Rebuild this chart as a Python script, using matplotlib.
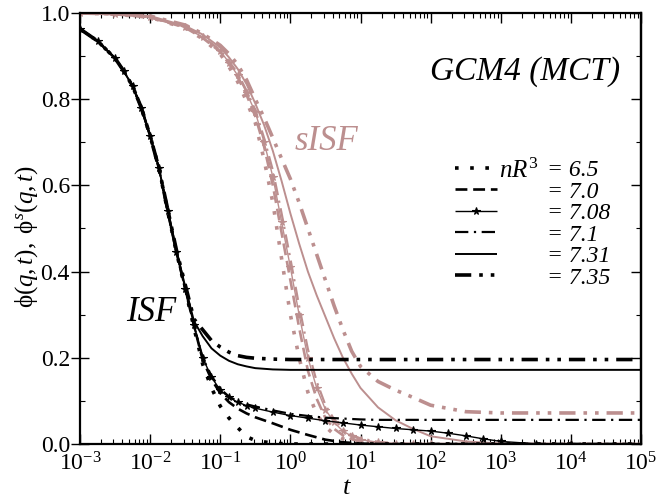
import numpy as np
import matplotlib
matplotlib.use('Agg')
import matplotlib.pyplot as plt
from matplotlib.ticker import LogLocator, MultipleLocator, NullFormatter, FormatStrFormatter

plt.rcParams['font.family'] = ['Liberation Serif', 'DejaVu Serif']
plt.rcParams['mathtext.fontset'] = 'custom'
plt.rcParams['mathtext.rm'] = 'Liberation Serif'
plt.rcParams['mathtext.it'] = 'Liberation Serif:italic'
plt.rcParams['mathtext.bf'] = 'Liberation Serif:bold'

# ---------------- data ----------------
densities = ['6.5', '7.0', '7.08', '7.1', '7.31', '7.35']

# collective ISF (black)
log_t_isf = [-3, -2.75, -2.5, -2.375, -2.25, -2.125, -2, -1.875, -1.75, -1.625, -1.5, -1.375,
             -1.25, -1.125, -1, -0.875, -0.75, -0.625, -0.5, -0.25, 0, 0.25, 0.5, 0.75,
             1, 1.25, 1.5, 1.75, 2, 2.25, 2.5, 2.75, 3, 3.5, 4, 5]
isf_65 = [0.963, 0.935, 0.895, 0.865, 0.83, 0.78, 0.715, 0.64, 0.54, 0.445, 0.36, 0.27,
          0.185, 0.13, 0.088, 0.06, 0.038, 0.017, 0.008, 0.002, 0, 0, 0, 0,
          0, 0, 0, 0, 0, 0, 0, 0, 0, 0, 0, 0]
isf_70 = [0.963, 0.935, 0.895, 0.865, 0.83, 0.78, 0.715, 0.64, 0.54, 0.445, 0.36, 0.275,
          0.195, 0.15, 0.118, 0.097, 0.082, 0.071, 0.062, 0.048, 0.033, 0.021, 0.01, 0.004,
          0.001, 0, 0, 0, 0, 0, 0, 0, 0, 0, 0, 0]
isf_708 = [0.963, 0.935, 0.895, 0.865, 0.83, 0.78, 0.715, 0.64, 0.54, 0.445, 0.36, 0.275,
           0.2, 0.155, 0.125, 0.108, 0.097, 0.089, 0.083, 0.074, 0.066, 0.06, 0.054, 0.049,
           0.044, 0.04, 0.036, 0.033, 0.03, 0.025, 0.019, 0.012, 0.006, 0.0005, 0, 0]
isf_71 = [0.963, 0.935, 0.895, 0.865, 0.83, 0.78, 0.715, 0.64, 0.54, 0.445, 0.36, 0.275,
          0.2, 0.158, 0.128, 0.11, 0.099, 0.092, 0.087, 0.078, 0.07, 0.065, 0.061, 0.059,
          0.057, 0.056, 0.056, 0.056, 0.056, 0.056, 0.056, 0.056, 0.056, 0.056, 0.056, 0.056]
isf_731 = [0.963, 0.935, 0.895, 0.865, 0.83, 0.78, 0.715, 0.64, 0.545, 0.45, 0.365, 0.285,
           0.25, 0.222, 0.205, 0.193, 0.185, 0.18, 0.176, 0.173, 0.172, 0.172, 0.172, 0.172,
           0.172, 0.172, 0.172, 0.172, 0.172, 0.172, 0.172, 0.172, 0.172, 0.172, 0.172, 0.172]
isf_735 = [0.963, 0.935, 0.895, 0.865, 0.83, 0.78, 0.715, 0.64, 0.545, 0.45, 0.37, 0.29,
           0.265, 0.24, 0.225, 0.213, 0.205, 0.201, 0.199, 0.197, 0.196, 0.196, 0.196, 0.196,
           0.196, 0.196, 0.196, 0.196, 0.196, 0.196, 0.196, 0.196, 0.196, 0.196, 0.196, 0.196]

# self ISF (pink)
log_t_sisf = [-3, -2.5, -2, -1.5, -1.25, -1, -0.875, -0.75, -0.625, -0.5, -0.375, -0.25,
              -0.125, 0, 0.125, 0.25, 0.375, 0.5, 0.625, 0.75, 0.875, 1, 1.25, 1.5, 1.75,
              2, 2.5, 3, 4, 5]
sisf_65 = [1.0, 0.997, 0.99, 0.965, 0.94, 0.905, 0.875, 0.84, 0.795, 0.745, 0.66, 0.56,
           0.43, 0.30, 0.20, 0.12, 0.07, 0.04, 0.022, 0.012, 0.006, 0.003, 0, 0, 0,
           0, 0, 0, 0, 0]
sisf_70 = [1.0, 0.997, 0.99, 0.966, 0.942, 0.91, 0.882, 0.85, 0.81, 0.76, 0.69, 0.60,
           0.49, 0.38, 0.27, 0.17, 0.105, 0.06, 0.035, 0.02, 0.011, 0.006, 0.001, 0, 0,
           0, 0, 0, 0, 0]
sisf_708 = [1.0, 0.997, 0.99, 0.967, 0.944, 0.912, 0.885, 0.855, 0.815, 0.77, 0.70, 0.62,
            0.515, 0.41, 0.30, 0.20, 0.13, 0.08, 0.05, 0.03, 0.018, 0.01, 0.004, 0.001, 0,
            0, 0, 0, 0, 0]
sisf_71 = [1.0, 0.997, 0.99, 0.967, 0.945, 0.914, 0.888, 0.86, 0.82, 0.775, 0.71, 0.635,
           0.535, 0.43, 0.32, 0.22, 0.145, 0.09, 0.057, 0.035, 0.021, 0.013, 0.005, 0.002, 0,
           0, 0, 0, 0, 0]
sisf_731 = [1.0, 0.998, 0.993, 0.97, 0.95, 0.92, 0.897, 0.87, 0.835, 0.79, 0.74, 0.68,
            0.61, 0.535, 0.465, 0.40, 0.345, 0.295, 0.245, 0.20, 0.163, 0.13, 0.085, 0.055,
            0.035, 0.018, 0.006, 0.001, 0, 0]
sisf_735 = [1.0, 0.998, 0.993, 0.972, 0.952, 0.925, 0.905, 0.88, 0.845, 0.80, 0.757, 0.71,
            0.662, 0.615, 0.56, 0.50, 0.44, 0.38, 0.32, 0.265, 0.215, 0.18, 0.145, 0.125,
            0.108, 0.09, 0.075, 0.072, 0.072, 0.072]

x_ticks = [1e-3, 1e-2, 1e-1, 1e0, 1e1, 1e2, 1e3, 1e4, 1e5]
y_ticks = [0.0, 0.2, 0.4, 0.6, 0.8, 1.0]

# ---------------- styles ----------------
PINK = '#BC8F8F'
styles = [
    dict(ls=(0, (1, 3.2)), lw=2.6, marker=None, dash_capstyle='butt'),
    dict(ls=(0, (4.5, 2.2)), lw=1.9, marker=None),
    dict(ls='-', lw=1.0, marker='*', ms=5.5),
    dict(ls=(0, (6, 2.5, 1, 2.5)), lw=1.6, marker=None),
    dict(ls='-', lw=1.4, marker=None),
    dict(ls=(0, (4.5, 2.2, 1, 2.2, 1, 2.2)), lw=2.6, marker=None),
]

isf_all = [isf_65, isf_70, isf_708, isf_71, isf_731, isf_735]
sisf_all = [sisf_65, sisf_70, sisf_708, sisf_71, sisf_731, sisf_735]

fig = plt.figure(figsize=(6.69, 5.0), dpi=100)
ax = fig.add_axes([80 / 669, 56 / 500, 561 / 669, 431 / 500])

t_isf = 10.0 ** np.array(log_t_isf)
t_sisf = 10.0 ** np.array(log_t_sisf)

handles = []
for vals, st in zip(sisf_all, styles):
    kw = dict(st)
    ax.plot(t_sisf, vals, color=PINK, linestyle=kw.pop('ls'), linewidth=kw.pop('lw'),
            markeredgewidth=0.8, solid_capstyle='butt', **kw)
for vals, st, d in zip(isf_all, styles, densities):
    kw = dict(st)
    h, = ax.plot(t_isf, vals, color='black', linestyle=kw.pop('ls'), linewidth=kw.pop('lw'),
                 markeredgewidth=0.8, solid_capstyle='butt', **kw)
    handles.append(h)

ax.set_xscale('log')
ax.set_xlim(1e-3, 1e5)
ax.set_ylim(0, 1)
ax.set_xticks(x_ticks)
ax.xaxis.set_minor_locator(LogLocator(base=10, subs=np.arange(2, 10), numticks=20))
ax.xaxis.set_minor_formatter(NullFormatter())
ax.set_yticks(y_ticks)
ax.yaxis.set_major_formatter(FormatStrFormatter('%.1f'))
ax.yaxis.set_minor_locator(MultipleLocator(0.1))

for s in ax.spines.values():
    s.set_linewidth(1.6)

ax.tick_params(axis='x', which='major', direction='in', length=7.5, width=1.0,
               top=True, labelsize=17, pad=6)
ax.tick_params(axis='x', which='minor', direction='in', length=3.8, width=0.8, top=True)
ax.tick_params(axis='y', which='major', direction='inout', length=12.5, width=1.0,
               left=True, right=False, labelsize=17, pad=1)
ax.tick_params(axis='y', which='minor', direction='in', length=3.8, width=0.8,
               left=True, right=True)
sec = ax.secondary_yaxis('right')
sec.set_yticks(y_ticks)
sec.tick_params(direction='in', length=7.5, width=1.0, labelright=False)
sec.spines['right'].set_linewidth(1.6)

ax.set_xlabel('$t$', fontsize=19)
ax.xaxis.set_label_coords(0.476, -0.076)
ax.set_ylabel(r'$\mathrm{\phi}(q,t),\ \mathrm{\phi}^{s}(q,t)$', fontsize=18)
ax.yaxis.set_label_coords(-0.072, 0.48)

ax.text(0.793, 0.865, 'GCM4 (MCT)', transform=ax.transAxes, fontsize=24,
        style='italic', ha='center', va='center')
ax.text(0.44, 0.703, 'sISF', transform=ax.transAxes, fontsize=25,
        style='italic', ha='center', va='center', color=PINK)
ax.text(0.127, 0.306, 'ISF', transform=ax.transAxes, fontsize=25,
        style='italic', ha='center', va='center')

leg = ax.legend(handles, ['= ' + d for d in densities], loc='upper left',
                bbox_to_anchor=(0.668, 0.66), frameon=False, borderpad=0, borderaxespad=0,
                handlelength=1.8, handletextpad=2.1, labelspacing=0.0,
                prop=dict(family='Liberation Serif', style='italic', size=17))
ax.text(0.747, 0.633, '$nR^3$', transform=ax.transAxes, fontsize=18, ha='left', va='center')

fig.savefig('out.png', dpi=100)
